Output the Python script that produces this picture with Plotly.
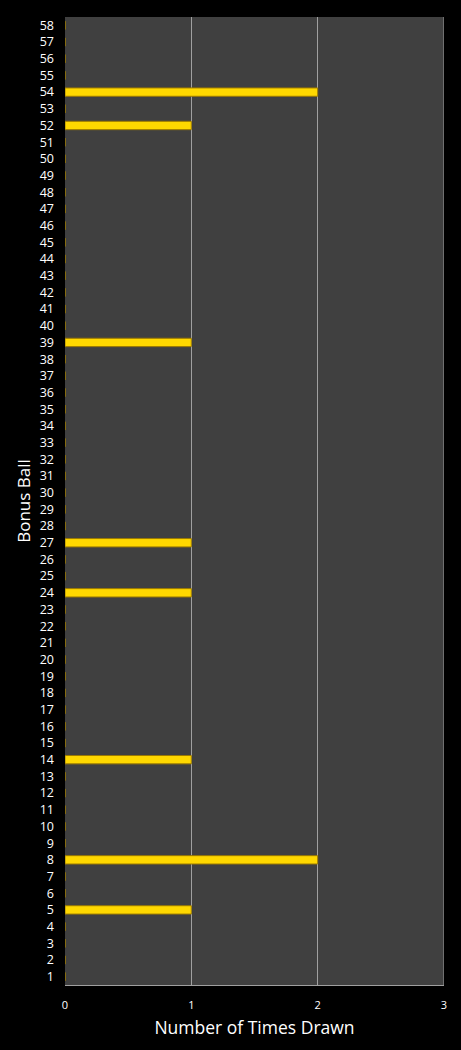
import plotly.graph_objects as go

# bonus ball numbers 1..58 and how often each was drawn
balls = list(range(1, 59))
drawn_balls = [5, 8, 14, 24, 27, 39, 52, 54]
drawn_counts = [1, 2, 1, 1, 1, 1, 1, 2]
x_ticks = [0, 1, 2, 3]

counts = [drawn_counts[drawn_balls.index(b)] if b in drawn_balls else 0 for b in balls]

fig = go.Figure()
fig.add_trace(go.Bar(
    x=counts, y=balls, orientation='h',
    marker=dict(color='#FFD800', line=dict(color='#9C7A00', width=1)),
    width=0.5,
))

fig.update_layout(
    width=461, height=1050,
    paper_bgcolor='black', plot_bgcolor='#404040',
    margin=dict(l=65, r=17, t=17, b=65),
    showlegend=False,
    font=dict(family='Open Sans, sans-serif', color='white', size=12),
)
fig.update_xaxes(
    range=[0, 3], tickvals=x_ticks, showgrid=True, gridcolor='#A0A0A0', gridwidth=1,
    zeroline=False, showline=True, linecolor='#A0A0A0', mirror=False,
    tickfont=dict(size=11), ticks='', ticklabelstandoff=10,
    title=dict(text='Number of Times Drawn', font=dict(size=17.5), standoff=10),
)
fig.update_yaxes(
    range=[0.5, 58.5], tickvals=balls, ticktext=[str(b) for b in balls],
    showgrid=False, zeroline=False, ticks='', tickfont=dict(size=12.5),
    ticklabelstandoff=10,
    title=dict(text='Bonus Ball', font=dict(size=17), standoff=4),
)
# right border line at x=3
fig.add_shape(type='line', xref='x', yref='paper', x0=3, x1=3, y0=0, y1=1,
              line=dict(color='#A0A0A0', width=1))

fig.write_html("out.html", config={'displayModeBar': False},
               post_script="document.body.style.margin='0';")
